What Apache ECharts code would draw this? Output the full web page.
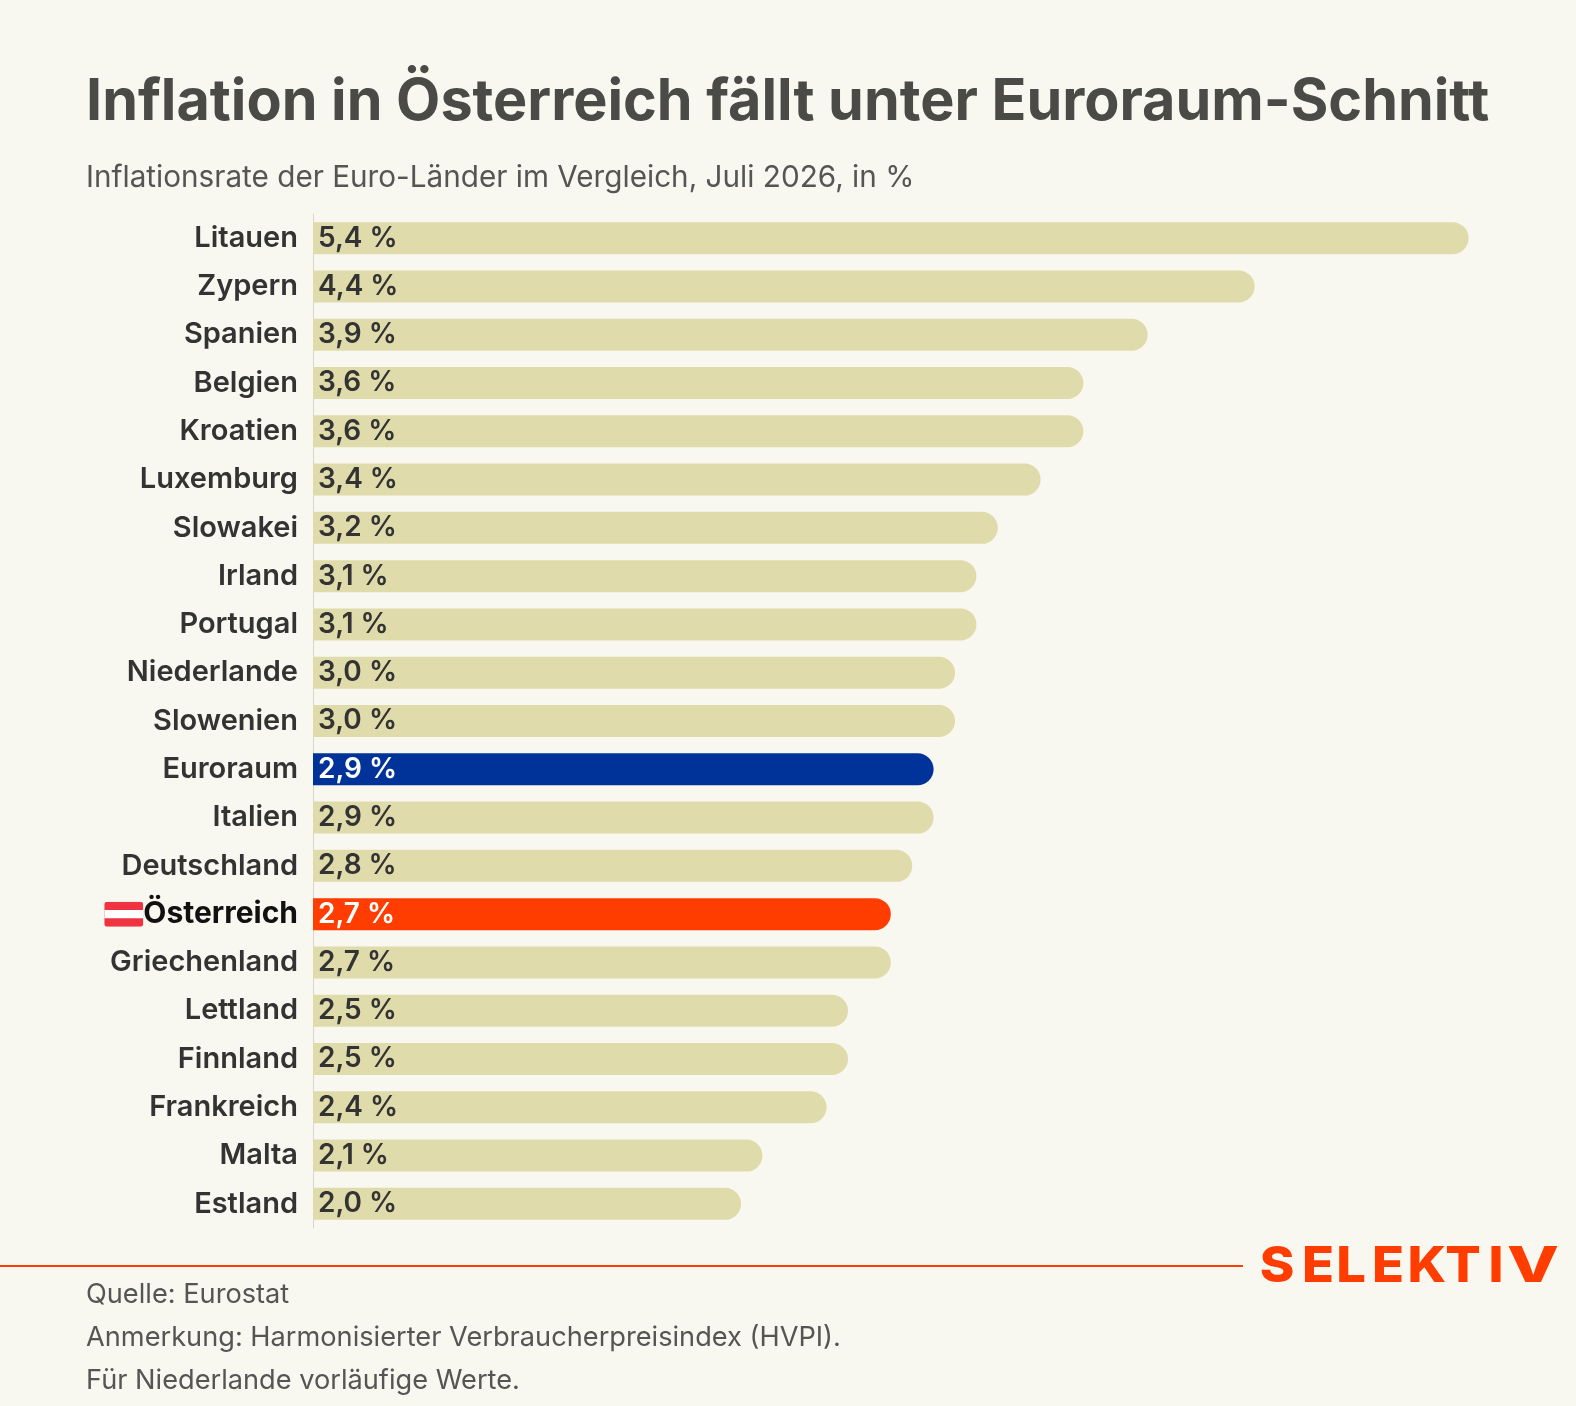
<!DOCTYPE html>
<html>
<head>
<meta charset="utf-8">
<title>Inflation in Österreich</title>
<script src="https://cdn.jsdelivr.net/npm/echarts@6/dist/echarts.min.js"></script>
<style>
  html, body { margin: 0; padding: 0; background: #f8f7f0; }
  #chart { width: 1576px; height: 1406px; }
</style>
</head>
<body>
<div id="chart"></div>
<script>
// Länder und Inflationsraten (Juli 2026, in %)
var countries = ['Litauen', 'Zypern', 'Spanien', 'Belgien', 'Kroatien', 'Luxemburg', 'Slowakei', 'Irland', 'Portugal', 'Niederlande', 'Slowenien', 'Euroraum', 'Italien', 'Deutschland', 'Österreich', 'Griechenland', 'Lettland', 'Finnland', 'Frankreich', 'Malta', 'Estland'];
var rates = [5.4, 4.4, 3.9, 3.6, 3.6, 3.4, 3.2, 3.1, 3.1, 3.0, 3.0, 2.9, 2.9, 2.8, 2.7, 2.7, 2.5, 2.5, 2.4, 2.1, 2.0];
var footnotes = ['Quelle: Eurostat', 'Anmerkung: Harmonisierter Verbraucherpreisindex (HVPI).', 'Für Niederlande vorläufige Werte.'];

var FONT = 'Inter';
var BEIGE = '#e0dbab';
var BLUE = '#00339a';
var ORANGE = '#ff3d00';

// Flagge als kleines SVG (kein Emoji-Font vorhanden)
var flagSvg = 'data:image/svg+xml;utf8,' + encodeURIComponent(
    '<svg xmlns="http://www.w3.org/2000/svg" width="36" height="25" viewBox="0 0 36 25">' +
    '<rect x="0" y="0" width="36" height="25" rx="3" fill="#ef3340"/>' +
    '<rect x="0" y="8.3" width="36" height="8.4" fill="#ffffff"/>' +
    '</svg>');

function barColor(name) {
    if (name === 'Euroraum') return BLUE;
    if (name === 'Österreich') return ORANGE;
    return BEIGE;
}

var seriesData = rates.map(function (v, i) {
    var c = countries[i];
    var highlight = (c === 'Euroraum' || c === 'Österreich');
    return {
        value: v,
        itemStyle: { color: barColor(c) },
        label: { color: highlight ? '#ffffff' : '#333333' }
    };
});

// Logo: Buchstaben einzeln gesetzt, weil letterSpacing nicht greift
var logoLetters = ['S', 'E', 'L', 'E', 'K', 'T', 'I', 'V'];
var logoCenters = [1277, 1318, 1351, 1388, 1427, 1463, 1496, 1533];
var logo = logoLetters.map(function (ch, i) {
    return {
        type: 'text',
        x: logoCenters[i], y: 1267,
        scaleX: ch === 'V' ? 1.35 : 1.05,
        style: {
            text: ch, x: 0, y: 0,
            align: 'center', verticalAlign: 'middle',
            fontSize: 50, fontWeight: 800, fill: ORANGE, fontFamily: FONT
        }
    };
});

var myChart = echarts.init(document.getElementById('chart'));

var option = {
    backgroundColor: '#f8f7f0',
    textStyle: { fontFamily: FONT },
    grid: {
        left: 313,
        right: 86,
        top: 214,
        height: 1014
    },
    xAxis: {
        type: 'value',
        min: 0,
        max: 5.5,
        show: false
    },
    yAxis: {
        type: 'category',
        inverse: true,
        data: countries,
        axisTick: { show: false },
        axisLine: { show: true, lineStyle: { color: '#d6d6cf', width: 1 } },
        axisLabel: {
            margin: 15,
            fontSize: 29,
            fontWeight: 600,
            color: '#333333',
            fontFamily: FONT,
            formatter: function (v) {
                if (v === 'Österreich') return '{flag|}{at|' + v + '}';
                return v;
            },
            rich: {
                flag: {
                    width: 36,
                    height: 25,
                    padding: [0, 3, 0, 0],
                    backgroundColor: { image: flagSvg }
                },
                at: {
                    fontSize: 30,
                    fontWeight: 700,
                    color: '#111111',
                    fontFamily: FONT
                }
            }
        }
    },
    series: [{
        type: 'bar',
        data: seriesData,
        barWidth: 32,
        itemStyle: { borderRadius: [0, 16, 16, 0] },
        label: {
            show: true,
            position: 'insideLeft',
            distance: 5,
            fontSize: 28,
            fontWeight: 600,
            fontFamily: FONT,
            formatter: function (p) {
                return p.value.toFixed(1).replace('.', ',') + ' %';
            }
        },
        silent: true
    }],
    graphic: [
        {
            type: 'text', left: 86, top: 74,
            style: { text: 'Inflation in Österreich fällt unter Euroraum-Schnitt', fontSize: 57.5, fontWeight: 700, fill: '#4a4a47', fontFamily: FONT }
        },
        {
            type: 'text', left: 86, top: 163,
            style: { text: 'Inflationsrate der Euro-Länder im Vergleich, Juli 2026, in %', fontSize: 29.7, fill: '#555553', fontFamily: FONT }
        },
        {
            type: 'rect', shape: { x: 0, y: 1265, width: 1243, height: 2 },
            style: { fill: ORANGE }
        },
        {
            type: 'group', children: logo
        },
        {
            type: 'text', left: 86, top: 1281,
            style: { text: footnotes[0], fontSize: 27.2, fill: '#555553', fontFamily: FONT }
        },
        {
            type: 'text', left: 86, top: 1324,
            style: { text: footnotes[1], fontSize: 27.2, fill: '#555553', fontFamily: FONT }
        },
        {
            type: 'text', left: 86, top: 1367,
            style: { text: footnotes[2], fontSize: 27.2, fill: '#555553', fontFamily: FONT }
        }
    ]
};

myChart.setOption(option);
</script>
</body>
</html>
